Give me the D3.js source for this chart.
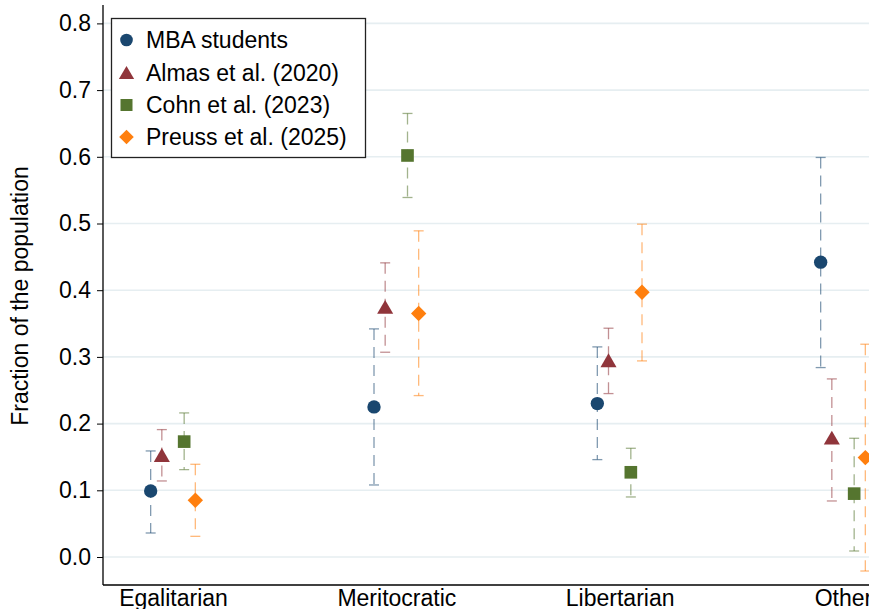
<!DOCTYPE html>
<html>
<head>
<meta charset="utf-8">
<script src="https://cdn.jsdelivr.net/npm/d3@7"></script>
<style>
  html, body { margin: 0; padding: 0; background: #fff; }
  svg { display: block; font-family: "Liberation Sans", Arial, sans-serif; }
</style>
</head>
<body>
<svg id="chart" width="869" height="609"></svg>
<script>
// ---- data ----
const categories = ["Egalitarian", "Meritocratic", "Libertarian", "Other"];
const seriesNames = ["MBA students", "Almas et al. (2020)", "Cohn et al. (2023)", "Preuss et al. (2025)"];

const mbaValues   = [0.099, 0.225, 0.230, 0.442];
const mbaLow      = [0.036, 0.108, 0.146, 0.284];
const mbaHigh     = [0.159, 0.342, 0.315, 0.599];

const almasValues = [0.153, 0.375, 0.295, 0.179];
const almasLow    = [0.114, 0.307, 0.245, 0.084];
const almasHigh   = [0.191, 0.441, 0.343, 0.267];

const cohnValues  = [0.173, 0.602, 0.127, 0.095];
const cohnLow     = [0.131, 0.539, 0.090, 0.009];
const cohnHigh    = [0.216, 0.665, 0.163, 0.178];

const preussValues = [0.085, 0.365, 0.397, 0.149];
const preussLow    = [0.031, 0.242, 0.294, -0.021];
const preussHigh   = [0.139, 0.489, 0.499, 0.319];

const yTicks = [0.0, 0.1, 0.2, 0.3, 0.4, 0.5, 0.6, 0.7, 0.8];
const yTitle = "Fraction of the population";

// ---- styling ----
const colors = ["#1a476f", "#90353b", "#55752f", "#ff7f0e"];
const offsets = [-0.1, -0.05, 0.05, 0.1];
const FS = 23;

const triangleBox = {
  draw(ctx, size) {
    const w = Math.sqrt(size * 4 / Math.sqrt(3));
    const h = w * Math.sqrt(3) / 2;
    ctx.moveTo(0, -h / 2);
    ctx.lineTo(w / 2, h / 2);
    ctx.lineTo(-w / 2, h / 2);
    ctx.closePath();
  }
};
const shapes = [
  { type: d3.symbolCircle, size: 140, rot: 0 },
  { type: triangleBox, size: 112, rot: 0 },
  { type: d3.symbolSquare, size: 160, rot: 0 },
  { type: d3.symbolSquare, size: 118, rot: 45 }
];

const series = seriesNames.map((name, s) => ({
  name,
  color: colors[s],
  shape: shapes[s],
  offset: offsets[s],
  values: [mbaValues, almasValues, cohnValues, preussValues][s],
  low: [mbaLow, almasLow, cohnLow, preussLow][s],
  high: [mbaHigh, almasHigh, cohnHigh, preussHigh][s]
}));

// ---- layout ----
const W = 869, H = 609;
const axisLeftX = 103, axisBottomY = 585, axisTopY = 5;

const svg = d3.select("#chart");

const x = d3.scaleLinear().domain([0, categories.length - 1]).range([173, 843]);
const y = d3.scaleLinear().domain([0, 0.8]).range([557, 23.4]);

// gridlines
svg.append("g").selectAll("line").data(yTicks).join("line")
  .attr("x1", axisLeftX).attr("x2", W + 50)
  .attr("y1", d => y(d)).attr("y2", d => y(d))
  .attr("stroke", "#e6eef1").attr("stroke-width", 1.6);

// y axis
const yAxisG = svg.append("g")
  .attr("transform", `translate(${axisLeftX},0)`)
  .call(d3.axisLeft(y).tickValues(yTicks).tickFormat(d3.format(".1f")).tickSize(6).tickPadding(6));
yAxisG.select(".domain").remove();
yAxisG.selectAll(".tick line").attr("stroke", "#000").attr("stroke-width", 1);
yAxisG.selectAll(".tick text").attr("font-size", FS).attr("fill", "#000")
  .attr("font-family", "Liberation Sans, Arial, sans-serif");
svg.append("line").attr("x1", axisLeftX).attr("x2", axisLeftX)
  .attr("y1", axisTopY).attr("y2", axisBottomY)
  .attr("stroke", "#000").attr("stroke-width", 1.3);

// x axis
const xAxisG = svg.append("g")
  .attr("transform", `translate(0,${axisBottomY})`)
  .call(d3.axisBottom(x).tickValues(d3.range(categories.length))
    .tickFormat(i => categories[i]).tickSize(0).tickPadding(5));
xAxisG.select(".domain").remove();
xAxisG.selectAll(".tick text").attr("font-size", FS).attr("fill", "#000")
  .attr("font-family", "Liberation Sans, Arial, sans-serif");
svg.append("line").attr("x1", axisLeftX).attr("x2", W + 10)
  .attr("y1", axisBottomY).attr("y2", axisBottomY)
  .attr("stroke", "#000").attr("stroke-width", 1.3);

// y title
svg.append("text")
  .attr("transform", `translate(28,296) rotate(-90)`)
  .attr("text-anchor", "middle")
  .attr("font-size", FS)
  .attr("fill", "#000")
  .text(yTitle);

// error bars + markers
const capHalf = 5;
series.forEach(s => {
  const g = svg.append("g");
  const pts = categories.map((c, i) => ({ i, v: s.values[i], lo: s.low[i], hi: s.high[i] }));
  const cx = d => x(d.i + s.offset);
  g.selectAll("line.bar").data(pts).join("line")
    .attr("x1", cx).attr("x2", cx)
    .attr("y1", d => y(d.hi)).attr("y2", d => y(d.lo))
    .attr("stroke", s.color).attr("stroke-opacity", 0.55)
    .attr("stroke-width", 1.3).attr("stroke-dasharray", "11,7");
  ["hi", "lo"].forEach(k => {
    g.selectAll("line.cap" + k).data(pts).join("line")
      .attr("x1", d => cx(d) - capHalf).attr("x2", d => cx(d) + capHalf)
      .attr("y1", d => y(d[k])).attr("y2", d => y(d[k]))
      .attr("stroke", s.color).attr("stroke-opacity", 0.55).attr("stroke-width", 1.3);
  });
  g.selectAll("path.mk").data(pts).join("path")
    .attr("d", d3.symbol().type(s.shape.type).size(s.shape.size))
    .attr("transform", d => `translate(${cx(d)},${y(d.v)}) rotate(${s.shape.rot})`)
    .attr("fill", s.color);
});

// legend
const lg = svg.append("g");
lg.append("rect").attr("x", 111.5).attr("y", 18.5).attr("width", 254).attr("height", 139)
  .attr("fill", "#fff").attr("stroke", "#222").attr("stroke-width", 1.3);
const rowY = [40, 72.5, 105, 137];
series.forEach((s, k) => {
  lg.append("path")
    .attr("d", d3.symbol().type(s.shape.type).size(s.shape.size * 0.9))
    .attr("transform", `translate(126.5,${rowY[k]}) rotate(${s.shape.rot})`)
    .attr("fill", s.color);
  lg.append("text").attr("x", 146).attr("y", rowY[k]).attr("dy", "0.36em")
    .attr("font-size", FS).attr("fill", "#000").text(s.name);
});
</script>
</body>
</html>
